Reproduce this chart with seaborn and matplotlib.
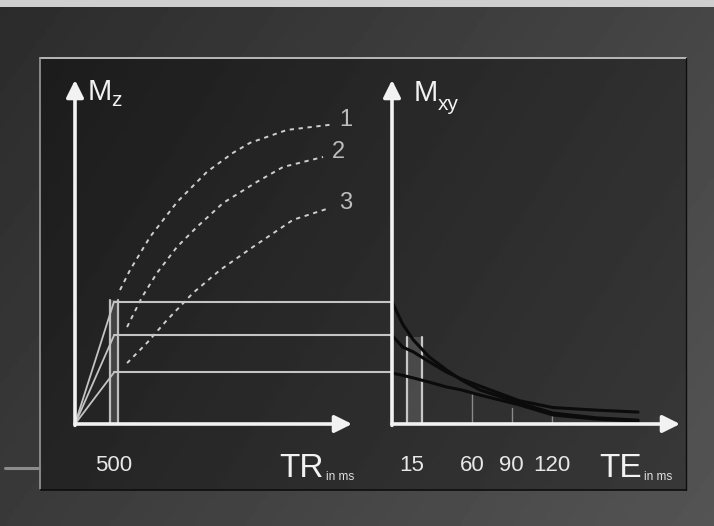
import matplotlib
matplotlib.use("Agg")
import matplotlib.pyplot as plt
import numpy as np
import seaborn as sns
from matplotlib.lines import Line2D
from matplotlib.patches import Rectangle

# ---- left panel: longitudinal recovery Mz vs TR (ms) ----
tr_curve1 = [577, 705, 962, 1308, 1692, 2026, 2244, 2718, 3269]
mz_curve1 = [0.416, 0.478, 0.581, 0.689, 0.783, 0.842, 0.873, 0.913, 0.929]
tr_curve2 = [667, 859, 1051, 1308, 1564, 1897, 2333, 2667, 3179]
mz_curve2 = [0.301, 0.394, 0.469, 0.550, 0.612, 0.686, 0.752, 0.798, 0.829]
tr_curve3 = [667, 923, 1180, 1513, 1859, 2282, 2795, 3269]
mz_curve3 = [0.189, 0.252, 0.323, 0.407, 0.478, 0.550, 0.634, 0.671]
curve_labels = ["1", "2", "3"]

tr_short = 500
mz_at_tr = [0.38, 0.275, 0.16]
tr_band = [450, 550]
tr_ticks = [500]

# ---- right panel: transverse decay Mxy vs TE (ms) ----
te_points = [0, 8, 16, 28, 41, 52, 66, 96, 121, 154, 185]
mxy_a = [0.380, 0.310, 0.261, 0.208, 0.168, 0.137, 0.106, 0.065, 0.034, 0.019, 0.012]
mxy_b = [0.275, 0.239, 0.224, 0.193, 0.161, 0.140, 0.118, 0.072, 0.051, 0.043, 0.037]
mxy_c = [0.158, 0.151, 0.143, 0.130, 0.115, 0.106, 0.090, 0.059, 0.028, 0.015, 0.009]
te_ticks = [15, 60, 90, 120]
te_band = [11, 22.5]
te_band_top = 0.27
te_marks = [60, 90, 120]
te_mark_tops = [0.096, 0.050, 0.030]

W, H = 714, 526


def fx(px):
    return px / W


def fy(py):
    return 1 - py / H


sns.set_theme(style="dark")
plt.rcParams["font.family"] = ["Liberation Sans", "DejaVu Sans"]

fig = plt.figure(figsize=(7.14, 5.26), dpi=100)
fig.patch.set_facecolor("#333333")

# background: dark scanned-photo look, lighter towards the right
bg = fig.add_axes([0, 0, 1, 1], zorder=-10)
gx = np.linspace(0, 1, 200)[None, :]
gy = np.linspace(0, 1, 150)[:, None]
outer = 0.17 + 0.16 * (0.65 * gx + 0.35 * gy)
bg.imshow(outer, cmap="gray", vmin=0, vmax=1, aspect="auto",
          extent=[0, 1, 0, 1], origin="upper")
inner = 0.11 + 0.11 * (0.7 * gx + 0.3 * gy)
bg.imshow(inner, cmap="gray", vmin=0, vmax=1, aspect="auto",
          extent=[fx(40), fx(686), fy(490), fy(58)], origin="upper")
bg.add_patch(Rectangle((0, fy(7)), 1, fy(0) - fy(7), facecolor="#cfcfcf", edgecolor="none"))
bg.set_xlim(0, 1)
bg.set_ylim(0, 1)
bg.axis("off")

# frame of the diagram
fig.add_artist(Line2D([fx(40), fx(686)], [fy(58), fy(58)], color="#b8b8b8", lw=1.4))
fig.add_artist(Line2D([fx(40), fx(40)], [fy(58), fy(490)], color="#9a9a9a", lw=1.2))
fig.add_artist(Line2D([fx(686), fx(686)], [fy(58), fy(490)], color="#0e0e0e", lw=1.0))
fig.add_artist(Line2D([fx(40), fx(686)], [fy(490), fy(490)], color="#0e0e0e", lw=1.2))
fig.add_artist(Line2D([fx(5), fx(39)], [fy(468), fy(468)], color="#8c8c8c", lw=2.2))

ymax = 1.068
ax_l = fig.add_axes([fx(75), fy(424), fx(352) - fx(75), fy(80) - fy(424)])
ax_r = fig.add_axes([fx(392), fy(424), fx(680) - fx(392), fy(80) - fy(424)])

for ax in (ax_l, ax_r):
    ax.set_facecolor("none")
    for s in ax.spines.values():
        s.set_visible(False)
    ax.set_ylim(0, ymax)
    ax.set_yticks([])
    ax.grid(False)
    ax.annotate("", xy=(1, 0), xytext=(0, 0), xycoords="axes fraction",
                arrowprops=dict(arrowstyle="-|>", lw=2.6, color="#f2f2f2",
                                mutation_scale=26, shrinkA=0, shrinkB=0), zorder=6)
    ax.annotate("", xy=(0, 1), xytext=(0, -0.004), xycoords="axes fraction",
                arrowprops=dict(arrowstyle="-|>", lw=2.6, color="#f2f2f2",
                                mutation_scale=26, shrinkA=0, shrinkB=0), zorder=6)
    ax.tick_params(axis="x", length=0, pad=22, labelsize=16, labelcolor="#e8e8e8")

ax_l.set_xlim(0, 3550)
ax_r.set_xlim(0, 216.5)

# ---- left panel ----
for t, m in [(tr_curve1, mz_curve1), (tr_curve2, mz_curve2), (tr_curve3, mz_curve3)]:
    sns.lineplot(x=t, y=m, ax=ax_l, color="#cfcfcf", linewidth=1.4,
                 linestyle=(0, (2.2, 2.4)))
for lab, t, m in zip(curve_labels, [tr_curve1, tr_curve2, tr_curve3],
                     [mz_curve1, mz_curve2, mz_curve3]):
    ax_l.text(t[-1] + 200, m[-1] + 0.015, lab, color="#bdbdbd", fontsize=17,
              ha="center", va="center")

ax_l.fill_betweenx([0, max(mz_at_tr) + 0.005], tr_band[0], tr_band[1],
                   color="#d0d0d0", alpha=0.18, lw=0)
for xb in tr_band:
    ax_l.plot([xb, xb], [0, max(mz_at_tr) + 0.005], color="#bdbdbd", lw=1.6)

# x position of the right panel's y axis, in left-panel data units
x_join = ax_l.transData.inverted().transform(ax_r.transAxes.transform((0, 0)))[0]
for m in mz_at_tr:
    sns.lineplot(x=[0, tr_short], y=[0, m], ax=ax_l, color="#c4c4c4", linewidth=1.3)
    ax_l.plot([tr_short, x_join], [m, m], color="#c4c4c4", lw=1.5, clip_on=False)

ax_l.set_xticks(tr_ticks, [str(v) for v in tr_ticks])

# ---- right panel ----
ax_r.fill_betweenx([0, te_band_top], te_band[0], te_band[1],
                   color="#d0d0d0", alpha=0.18, lw=0)
for xb in te_band:
    ax_r.plot([xb, xb], [0, te_band_top], color="#c8c8c8", lw=1.6)
for xm, top in zip(te_marks, te_mark_tops):
    ax_r.plot([xm, xm], [0, top], color="#8a8a8a", lw=1.0)

for m in (mxy_a, mxy_b, mxy_c):
    sns.lineplot(x=te_points, y=m, ax=ax_r, color="#0b0b0b", linewidth=2.2)

ax_r.set_xticks(te_ticks, [str(v) for v in te_ticks])

# ---- axis titles ----
fig.text(fx(88), fy(92), "M", color="#f2f2f2", fontsize=21, va="center", ha="left")
fig.text(fx(111), fy(100), "z", color="#f2f2f2", fontsize=15, va="center", ha="left")
fig.text(fx(414), fy(93), "M", color="#f2f2f2", fontsize=21, va="center", ha="left")
fig.text(fx(438), fy(105), "xy", color="#f2f2f2", fontsize=15, va="center", ha="left")

fig.text(fx(279), fy(477), "TR", color="#f2f2f2", fontsize=24, va="baseline", ha="left")
fig.text(fx(326), fy(480), "in ms", color="#e0e0e0", fontsize=8.5, va="baseline", ha="left")
fig.text(fx(599), fy(477), "TE", color="#f2f2f2", fontsize=24, va="baseline", ha="left")
fig.text(fx(644), fy(480), "in ms", color="#e0e0e0", fontsize=8.5, va="baseline", ha="left")

fig.savefig("out.png", dpi=100, facecolor=fig.get_facecolor())
